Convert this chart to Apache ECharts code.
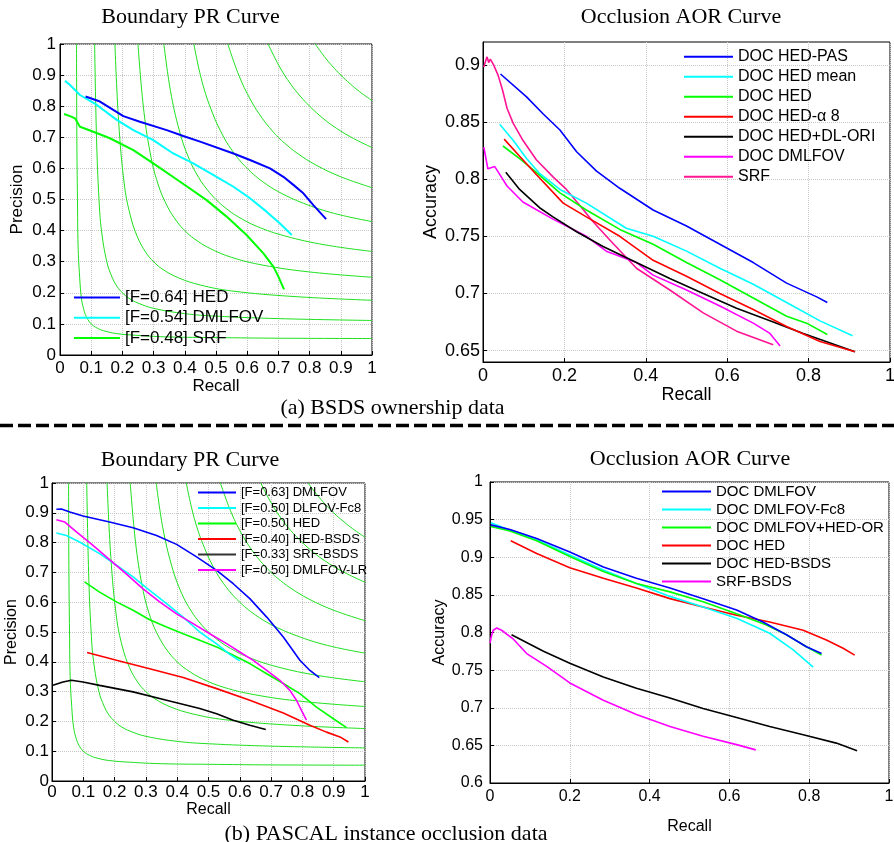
<!DOCTYPE html>
<html>
<head>
<meta charset="utf-8">
<script src="https://cdn.jsdelivr.net/npm/echarts@6/dist/echarts.min.js"></script>
<style>html,body{margin:0;padding:0;background:#fff}#c{width:894px;height:842px}</style>
</head>
<body>
<div id="c"></div>
<script>
// ---------- iso-F reference curves ----------
const isoF1 = [[0.053,1],[0.054,0.7],[0.056,0.5],[0.058,0.35],[0.063,0.25],[0.069,0.18],[0.078,0.14],[0.086,0.12],[0.1,0.1],[0.12,0.086],[0.14,0.078],[0.18,0.069],[0.25,0.063],[0.35,0.058],[0.5,0.056],[0.7,0.054],[1,0.053]];
const isoF2 = [[0.111,1],[0.117,0.7],[0.125,0.5],[0.133,0.4],[0.15,0.3],[0.167,0.25],[0.183,0.22],[0.2,0.2],[0.22,0.183],[0.25,0.167],[0.3,0.15],[0.4,0.133],[0.5,0.125],[0.7,0.117],[1,0.111]];
const isoF3 = [[0.176,1],[0.188,0.75],[0.206,0.55],[0.225,0.45],[0.248,0.38],[0.275,0.33],[0.3,0.3],[0.33,0.275],[0.38,0.248],[0.45,0.225],[0.55,0.206],[0.75,0.188],[1,0.176]];
const isoF4 = [[0.25,1],[0.267,0.8],[0.289,0.65],[0.314,0.55],[0.343,0.48],[0.374,0.43],[0.4,0.4],[0.43,0.374],[0.48,0.343],[0.55,0.314],[0.65,0.289],[0.8,0.267],[1,0.25]];
const isoF5 = [[0.333,1],[0.354,0.85],[0.383,0.72],[0.414,0.63],[0.445,0.57],[0.473,0.53],[0.5,0.5],[0.53,0.473],[0.57,0.445],[0.63,0.414],[0.72,0.383],[0.85,0.354],[1,0.333]];
const isoF6 = [[0.429,1],[0.455,0.88],[0.488,0.78],[0.525,0.7],[0.557,0.65],[0.581,0.62],[0.6,0.6],[0.62,0.581],[0.65,0.557],[0.7,0.525],[0.78,0.488],[0.88,0.455],[1,0.429]];
const isoF7 = [[0.538,1],[0.573,0.9],[0.611,0.82],[0.649,0.76],[0.681,0.72],[0.7,0.7],[0.72,0.681],[0.76,0.649],[0.82,0.611],[0.9,0.573],[1,0.538]];
const isoF8 = [[0.667,1],[0.702,0.93],[0.74,0.87],[0.772,0.83],[0.8,0.8],[0.83,0.772],[0.87,0.74],[0.93,0.702],[1,0.667]];
const isoF9 = [[0.818,1],[0.847,0.96],[0.872,0.93],[0.9,0.9],[0.93,0.872],[0.96,0.847],[1,0.818]];

// ---------- (a) BSDS: Boundary PR ----------
const bsdsPRNames = ['[F=0.64] HED', '[F=0.54] DMLFOV', '[F=0.48] SRF'];
const bsdsHED = [[0.082,0.831],[0.128,0.815],[0.203,0.768],[0.256,0.750],[0.342,0.723],[0.395,0.704],[0.449,0.686],[0.556,0.648],[0.609,0.627],[0.673,0.600],[0.716,0.573],[0.748,0.547],[0.780,0.520],[0.812,0.482],[0.853,0.437]];
const bsdsDMLFOV = [[0.016,0.882],[0.032,0.868],[0.064,0.836],[0.118,0.804],[0.182,0.756],[0.235,0.723],[0.299,0.691],[0.363,0.648],[0.427,0.616],[0.502,0.573],[0.556,0.541],[0.609,0.504],[0.662,0.461],[0.705,0.423],[0.743,0.386]];
const bsdsSRF = [[0.013,0.775],[0.032,0.768],[0.048,0.761],[0.064,0.734],[0.107,0.718],[0.160,0.697],[0.235,0.659],[0.299,0.616],[0.385,0.557],[0.470,0.498],[0.534,0.445],[0.598,0.386],[0.652,0.327],[0.684,0.284],[0.700,0.252],[0.718,0.211]];

// ---------- (a) BSDS: Occlusion AOR ----------
const bsdsAORNames = ['DOC HED-PAS', 'DOC HED mean', 'DOC HED', 'DOC HED-\u03b1 8', 'DOC HED+DL-ORI', 'DOC DMLFOV', 'SRF'];
const aorHEDPAS = [[0.043,0.892],[0.107,0.872],[0.148,0.857],[0.189,0.843],[0.230,0.824],[0.279,0.807],[0.336,0.792],[0.418,0.773],[0.500,0.759],[0.582,0.743],[0.664,0.727],[0.746,0.709],[0.820,0.697],[0.846,0.692]];
const aorHEDmean = [[0.041,0.848],[0.074,0.834],[0.107,0.818],[0.139,0.805],[0.189,0.791],[0.254,0.779],[0.352,0.757],[0.418,0.750],[0.500,0.737],[0.582,0.722],[0.664,0.708],[0.746,0.692],[0.828,0.676],[0.908,0.663]];
const aorHED = [[0.049,0.829],[0.090,0.818],[0.131,0.806],[0.189,0.788],[0.254,0.773],[0.336,0.756],[0.418,0.743],[0.500,0.727],[0.582,0.712],[0.664,0.696],[0.746,0.680],[0.795,0.674],[0.846,0.664]];
const aorHEDa8 = [[0.052,0.835],[0.090,0.820],[0.131,0.804],[0.197,0.779],[0.254,0.767],[0.336,0.750],[0.418,0.729],[0.500,0.715],[0.582,0.700],[0.664,0.686],[0.746,0.671],[0.828,0.658],[0.914,0.649]];
const aorHEDDL = [[0.056,0.806],[0.090,0.791],[0.139,0.775],[0.172,0.767],[0.230,0.754],[0.295,0.741],[0.377,0.727],[0.459,0.713],[0.541,0.700],[0.623,0.687],[0.705,0.676],[0.787,0.665],[0.914,0.649]];
const aorDMLFOV = [[0.002,0.828],[0.012,0.809],[0.029,0.811],[0.059,0.794],[0.098,0.780],[0.172,0.765],[0.254,0.750],[0.303,0.737],[0.377,0.727],[0.418,0.716],[0.500,0.703],[0.582,0.689],[0.664,0.674],[0.705,0.665],[0.730,0.654]];
const aorSRF = [[0.002,0.898],[0.007,0.904],[0.010,0.907],[0.014,0.902],[0.018,0.905],[0.026,0.900],[0.037,0.891],[0.048,0.878],[0.059,0.862],[0.074,0.849],[0.098,0.834],[0.131,0.817],[0.172,0.802],[0.205,0.791],[0.238,0.777],[0.270,0.763],[0.311,0.747],[0.377,0.722],[0.459,0.703],[0.541,0.683],[0.623,0.667],[0.713,0.655]];

// ---------- (b) PASCAL: Boundary PR ----------
const pasPRNames = ['[F=0.63] DMLFOV', '[F=0.50] DLFOV-Fc8', '[F=0.50] HED', '[F=0.40] HED-BSDS', '[F=0.33] SRF-BSDS', '[F=0.50] DMLFOV-LR'];
const pasDMLFOV = [[0.014,0.912],[0.030,0.913],[0.057,0.903],[0.099,0.889],[0.184,0.869],[0.259,0.850],[0.334,0.824],[0.398,0.794],[0.462,0.752],[0.526,0.707],[0.579,0.662],[0.632,0.612],[0.686,0.550],[0.739,0.483],[0.792,0.405],[0.824,0.371],[0.854,0.347]];
const pasFc8 = [[0.014,0.832],[0.046,0.824],[0.088,0.802],[0.152,0.763],[0.206,0.724],[0.259,0.685],[0.312,0.640],[0.366,0.595],[0.419,0.550],[0.472,0.500],[0.526,0.460],[0.568,0.425],[0.600,0.403]];
const pasHED = [[0.104,0.668],[0.152,0.634],[0.206,0.601],[0.259,0.573],[0.312,0.541],[0.366,0.517],[0.419,0.494],[0.472,0.472],[0.526,0.450],[0.579,0.422],[0.632,0.394],[0.686,0.360],[0.739,0.327],[0.792,0.293],[0.845,0.248],[0.899,0.209],[0.941,0.179]];
const pasHEDBSDS = [[0.112,0.431],[0.206,0.405],[0.312,0.377],[0.419,0.347],[0.526,0.310],[0.632,0.271],[0.739,0.228],[0.824,0.187],[0.877,0.164],[0.920,0.148],[0.947,0.131]];
const pasSRFBSDS = [[0.003,0.321],[0.035,0.332],[0.062,0.338],[0.099,0.332],[0.152,0.321],[0.259,0.299],[0.366,0.271],[0.472,0.243],[0.526,0.226],[0.579,0.204],[0.632,0.187],[0.683,0.173]];
const pasLR = [[0.014,0.877],[0.041,0.869],[0.078,0.836],[0.131,0.791],[0.184,0.743],[0.238,0.694],[0.291,0.645],[0.344,0.601],[0.398,0.561],[0.451,0.528],[0.504,0.494],[0.558,0.461],[0.600,0.433],[0.643,0.405],[0.686,0.371],[0.728,0.338],[0.760,0.304],[0.781,0.271],[0.797,0.237],[0.813,0.204]];

// ---------- (b) PASCAL: Occlusion AOR ----------
const pasAORNames = ['DOC DMLFOV', 'DOC DMLFOV-Fc8', 'DOC DMLFOV+HED-OR', 'DOC HED', 'DOC HED-BSDS', 'SRF-BSDS'];
const docDMLFOV = [[0.002,0.943],[0.050,0.937],[0.117,0.925],[0.200,0.907],[0.284,0.887],[0.367,0.872],[0.451,0.859],[0.534,0.845],[0.618,0.830],[0.684,0.814],[0.743,0.797],[0.793,0.781],[0.831,0.772]];
const docFc8 = [[0.002,0.946],[0.050,0.936],[0.117,0.923],[0.200,0.903],[0.284,0.883],[0.367,0.865],[0.451,0.848],[0.534,0.834],[0.618,0.819],[0.701,0.799],[0.760,0.777],[0.810,0.754]];
const docHEDOR = [[0.002,0.941],[0.050,0.935],[0.117,0.922],[0.200,0.901],[0.284,0.881],[0.367,0.865],[0.451,0.854],[0.534,0.841],[0.618,0.825],[0.693,0.810],[0.743,0.797],[0.793,0.781],[0.831,0.770]];
const docHED = [[0.052,0.922],[0.117,0.905],[0.200,0.886],[0.284,0.872],[0.367,0.859],[0.451,0.845],[0.534,0.834],[0.618,0.823],[0.701,0.814],[0.785,0.803],[0.843,0.790],[0.885,0.779],[0.914,0.770]];
const docHEDBSDS = [[0.054,0.797],[0.134,0.775],[0.200,0.759],[0.284,0.741],[0.367,0.726],[0.451,0.713],[0.534,0.699],[0.618,0.687],[0.701,0.675],[0.785,0.664],[0.868,0.653],[0.920,0.643]];
const srfBSDS = [[0.000,0.786],[0.003,0.794],[0.008,0.803],[0.017,0.806],[0.029,0.803],[0.057,0.792],[0.092,0.772],[0.142,0.755],[0.200,0.733],[0.284,0.710],[0.367,0.691],[0.451,0.675],[0.534,0.662],[0.618,0.651],[0.666,0.644]];

// tick values
const aorTicksTop = [0.65, 0.7, 0.75, 0.8, 0.85, 0.9];

// ---------- build chart ----------
const SANS = '"Liberation Sans", Arial, Helvetica, sans-serif';
const SERIF = '"Liberation Serif", "Times New Roman", serif';
const BLUE = '#0000ff', CYAN = '#00ffff', GREEN = '#00ff00', RED = '#ff0000', BLACK = '#000000', MAG = '#ff00ff', PINK = '#ff1493';
const ISO = '#1ee01e';

const grids = [
  {left: 60, top: 44, width: 312, height: 311},
  {left: 483, top: 42, width: 407, height: 320},
  {left: 52, top: 483, width: 313, height: 298},
  {left: 490, top: 482, width: 399, height: 301}
].map(g => Object.assign(g, {show: true, borderColor: '#000', borderWidth: 1, backgroundColor: 'transparent', containLabel: false, outerBoundsMode: 'none'}));

const split = {show: true, lineStyle: {color: '#c8c8c8', type: 'dotted', width: 1}};
function xAx(gi, interval, fs, margin, nameFs, nameGap) {
  return {type: 'value', gridIndex: gi, min: 0, max: 1, interval: interval,
    name: 'Recall', nameLocation: 'middle', nameGap: nameGap,
    nameTextStyle: {fontSize: nameFs, color: '#000', fontFamily: SANS},
    axisLine: {show: true, onZero: false, lineStyle: {color: '#000', width: 1}},
    axisTick: {show: true, inside: true, length: 4, lineStyle: {color: '#000'}},
    axisLabel: {fontSize: fs, color: '#000', margin: margin, fontFamily: SANS},
    splitLine: split};
}
function yAx(gi, name, extra, fs, margin, nameFs, nameGap) {
  return Object.assign({type: 'value', gridIndex: gi,
    name: name, nameLocation: 'middle', nameGap: nameGap, nameRotate: 90,
    nameTextStyle: {fontSize: nameFs, color: '#000', fontFamily: SANS},
    axisLine: {show: true, onZero: false, lineStyle: {color: '#000', width: 1}},
    axisTick: {show: true, inside: true, length: 4, lineStyle: {color: '#000'}},
    axisLabel: {fontSize: fs, color: '#000', margin: margin, fontFamily: SANS},
    splitLine: split}, extra);
}

const xAxes = [
  xAx(0, 0.1, 17, 5, 17, 21),
  xAx(1, 0.2, 18, 5, 18, 22),
  xAx(2, 0.1, 17, 3, 16, 20),
  xAx(3, 0.2, 16, 6, 16, 36)
];
const yAxes = [
  yAx(0, 'Precision', {min: 0, max: 1, interval: 0.1}, 17, 4, 17, 34),
  yAx(1, 'Accuracy', {min: 0.64, max: 0.92, splitNumber: 5}, 18, 3, 18, 43),
  yAx(2, 'Precision', {min: 0, max: 1, interval: 0.1}, 17, 3, 16, 32),
  yAx(3, 'Accuracy', {min: 0.6, max: 1, interval: 0.05}, 16, 7, 16, 42)
];
yAxes[1].axisLabel.customValues = aorTicksTop;
yAxes[1].axisTick.customValues = aorTicksTop;

const series = [];
const isoCurves = [isoF1, isoF2, isoF3, isoF4, isoF5, isoF6, isoF7, isoF8, isoF9];
[0, 2].forEach(g => isoCurves.forEach(c => series.push({
  type: 'line', name: 'iso-F', xAxisIndex: g, yAxisIndex: g, data: c, showSymbol: false,
  smooth: 0.4, silent: true, z: 1, animation: false, lineStyle: {color: ISO, width: 1}
})));
function addLine(name, g, data, color, width) {
  series.push({type: 'line', name: name, xAxisIndex: g, yAxisIndex: g, data: data, showSymbol: false,
    smooth: false, z: 3, animation: false, itemStyle: {color: color}, lineStyle: {color: color, width: width}});
}
addLine(bsdsPRNames[2], 0, bsdsSRF, GREEN, 2);
addLine(bsdsPRNames[1], 0, bsdsDMLFOV, CYAN, 2);
addLine(bsdsPRNames[0], 0, bsdsHED, BLUE, 2);

addLine(bsdsAORNames[6], 1, aorSRF, PINK, 1.6);
addLine(bsdsAORNames[5], 1, aorDMLFOV, MAG, 1.6);
addLine(bsdsAORNames[4], 1, aorHEDDL, BLACK, 1.6);
addLine(bsdsAORNames[2], 1, aorHED, GREEN, 1.6);
addLine(bsdsAORNames[3], 1, aorHEDa8, RED, 1.6);
addLine(bsdsAORNames[1], 1, aorHEDmean, CYAN, 1.6);
addLine(bsdsAORNames[0], 1, aorHEDPAS, BLUE, 1.6);

addLine(pasPRNames[4], 2, pasSRFBSDS, BLACK, 1.6);
addLine(pasPRNames[3], 2, pasHEDBSDS, RED, 1.6);
addLine(pasPRNames[2], 2, pasHED, GREEN, 1.6);
addLine(pasPRNames[1], 2, pasFc8, CYAN, 1.6);
addLine(pasPRNames[5], 2, pasLR, MAG, 1.6);
addLine(pasPRNames[0], 2, pasDMLFOV, BLUE, 1.6);

addLine(pasAORNames[5], 3, srfBSDS, MAG, 1.6);
addLine(pasAORNames[4], 3, docHEDBSDS, BLACK, 1.6);
addLine(pasAORNames[3], 3, docHED, RED, 1.6);
addLine(pasAORNames[1], 3, docFc8, CYAN, 1.6);
addLine(pasAORNames[2], 3, docHEDOR, GREEN, 1.6);
addLine(pasAORNames[0], 3, docDMLFOV, BLUE, 1.6);

function legend(names, colors, left, top, iw, gap, fs) {
  return {show: true, orient: 'vertical', left: left, top: top, padding: 0, itemWidth: iw, itemHeight: 2,
    itemGap: gap, icon: 'rect', selectedMode: false, backgroundColor: 'transparent',
    textStyle: {fontSize: fs, color: '#000', fontFamily: SANS},
    data: names.map((n, i) => ({name: n, icon: 'rect', itemStyle: {color: colors[i], borderWidth: 0}}))};
}

const legends = [
  legend(bsdsPRNames, [BLUE, CYAN, GREEN], 74, 289, 46, 3.3, 17),
  legend(bsdsAORNames, [BLUE, CYAN, GREEN, RED, BLACK, MAG, PINK], 684, 48.7, 49, 4, 16),
  legend(pasPRNames, [BLUE, CYAN, GREEN, RED, '#333333', MAG], 198, 486, 38, 2.5, 13),
  legend(pasAORNames, [BLUE, CYAN, GREEN, RED, BLACK, MAG], 662, 484, 49, 3, 15)
];

function txt(s, x, y, fs) {
  return {type: 'text', x: x, y: y, z: 10, silent: true,
    style: {text: s, fill: '#000', fontSize: fs, fontFamily: SERIF,
      align: 'center', verticalAlign: 'middle', textAlign: 'center', textVerticalAlign: 'middle'}};
}
const graphics = [
  txt('Boundary PR Curve', 190.5, 17, 22),
  txt('Occlusion AOR Curve', 681, 17, 22),
  txt('(a) BSDS ownership data', 392.5, 408.5, 22),
  {type: 'line', silent: true, shape: {x1: 0, y1: 425.5, x2: 894, y2: 425.5},
    style: {stroke: '#000', lineWidth: 3.5, lineDash: [13, 5]}},
  txt('Boundary PR Curve', 190, 460.5, 22),
  txt('Occlusion AOR Curve', 690, 459.5, 22),
  txt('(b) PASCAL instance occlusion data', 386, 834, 22)
];

const chart = echarts.init(document.getElementById('c'), null, {renderer: 'canvas'});
chart.setOption({
  animation: false,
  backgroundColor: '#fff',
  grid: grids,
  xAxis: xAxes,
  yAxis: yAxes,
  legend: legends,
  series: series,
  graphic: graphics
});
</script>
</body>
</html>
